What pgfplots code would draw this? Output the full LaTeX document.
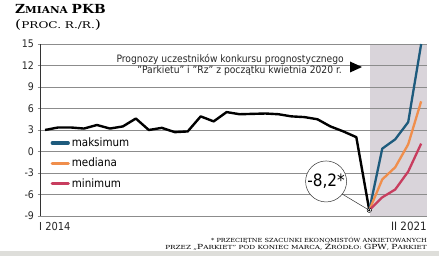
\documentclass[border=0pt]{standalone}
\usepackage{fontspec}
\setmainfont{DejaVu Sans Condensed}
\newfontfamily\ttlfont{DejaVu Serif}
\usepackage{pgfplots}
\pgfplotsset{compat=1.18}
\definecolor{cblue}{HTML}{1E5B7D}
\definecolor{corange}{HTML}{F08E4C}
\definecolor{cred}{HTML}{C83D5F}
\definecolor{cshade}{HTML}{D9D4DA}
\definecolor{cgrid}{HTML}{8C8C8C}
\definecolor{cstrip}{HTML}{DEDEDA}
\begin{document}
\begin{tikzpicture}[x=1pt,y=1pt]
\fill[cstrip] (0,0) rectangle (439,5);
% title
\node[anchor=base west, inner sep=0] at (15,242) {\ttlfont\bfseries\scalebox{1.1}[1]{{\fontsize{12.5}{12}\selectfont Z}{\fontsize{9.6}{10}\selectfont MIANA} {\fontsize{12.5}{12}\selectfont PKB}}};
\node[anchor=base west, inner sep=0] at (15,227.5) {\ttlfont\scalebox{1.3}[1]{{\fontsize{12}{10}\selectfont(}{\fontsize{9.3}{8}\selectfont PROC. R./R.}{\fontsize{12}{10}\selectfont)}}};
\begin{axis}[
  set layers,
  at={(40pt,40pt)}, anchor=south west,
  scale only axis, width=387pt, height=172pt,
  xmin=-0.39, xmax=29.45, ymin=-9, ymax=15,
  axis line style={draw=none},
  xtick=\empty,
  ytick={-9,-6,-3,0,3,6,9,12,15},
  yticklabels={-9,-6,-3,0,3,6,9,12,15},
  ytick pos=left,
  ymajorgrids, grid style={draw=cgrid, line width=0.6pt},
  major tick length=2.5pt, tick align=outside,
  tick style={draw=cgrid, line width=0.6pt},
  yticklabel style={font=\fontsize{10.5}{10}\selectfont, text=black!85},
  legend style={draw=none, fill=none, at={(rel axis cs:0.027,0.467)}, anchor=north west,
    font=\fontsize{11.5}{11.5}\selectfont, row sep=6pt, inner sep=0pt},
  legend cell align=left,
  legend image code/.code={\draw[line width=3.2pt, line cap=round] (0pt,0pt) -- (16pt,0pt);},
]
\begin{pgfonlayer}{axis background}
\fill[cshade] (axis cs:25.05,-9) rectangle (axis cs:29.45,15);
\end{pgfonlayer}
\draw[black!80, line width=0.7pt] (rel axis cs:0,0) -- (rel axis cs:0,1);
\addplot[black, line width=2.4pt, line join=round, forget plot] coordinates {
(0,3.0) (1,3.35) (2,3.35) (3,3.2) (4,3.7) (5,3.2) (6,3.5) (7,4.6) (8,3.0) (9,3.3)
(10,2.7) (11,2.8) (12,4.9) (13,4.2) (14,5.5) (15,5.2) (16,5.25) (17,5.3) (18,5.2) (19,4.9)
(20,4.8) (21,4.5) (22,3.5) (23,2.8) (24,2.0) (25,-8.2)};
\addplot[cblue, line width=2.3pt, line join=round] coordinates {(25,-8.2) (26,0.4) (27,1.7) (28,4.1) (29,15)};
\addlegendentry{maksimum}
\addplot[corange, line width=2.3pt, line join=round] coordinates {(25,-8.2) (26,-3.9) (27,-2.2) (28,1.0) (29,7.0)};
\addlegendentry{mediana}
\addplot[cred, line width=2.3pt, line join=round] coordinates {(25,-8.2) (26,-6.4) (27,-5.3) (28,-2.8) (29,1.1)};
\addlegendentry{minimum}
\node[circle, draw=black!80, line width=0.5pt, fill=white, minimum size=41pt, inner sep=0pt,
  font=\fontsize{17}{17}\selectfont] (call) at (axis cs:21.67,-4.18) {-8,2*};
\draw[black!80, line width=0.5pt] (call.-38) -- (axis cs:25,-8.2);
\addplot[only marks, mark=*, mark size=2.2pt, mark options={fill=white, draw=black, line width=0.5pt}, forget plot] coordinates {(25,-8.2)};
\addplot[only marks, mark=*, mark size=0.8pt, black, forget plot] coordinates {(25,-8.2)};
\end{axis}
% annotation
\node[anchor=base east, inner sep=0, font=\fontsize{10.2}{10}\selectfont, text=black!85] at (344,193) {Prognozy uczestników konkursu prognostycznego};
\node[anchor=base east, inner sep=0, font=\fontsize{10.2}{10}\selectfont, text=black!85] at (342,182) {"Parkietu" i "Rz" z początku kwietnia 2020 r.};
\fill[black] (350,194.5) -- (362,189) -- (350,183.5) -- cycle;
% x labels
\node[anchor=base west, inner sep=0, font=\fontsize{11}{11}\selectfont, text=black!85] at (39,25.3) {I 2014};
\node[anchor=base east, inner sep=0, font=\fontsize{11.5}{11}\selectfont, text=black!85] at (427,25.3) {II 2021};
% footnote
\node[anchor=base east, inner sep=0] at (427,13.3) {\ttlfont\scalebox{1.17}[1]{\fontsize{5.6}{5}\selectfont * PRZECIĘTNE SZACUNKI EKONOMISTÓW ANKIETOWANYCH}};
\node[anchor=base east, inner sep=0] at (427,6.5) {\ttlfont\scalebox{1.3}[1]{\fontsize{5.6}{5}\selectfont PRZEZ „{\fontsize{7}{6}\selectfont P}ARKIET” POD KONIEC MARCA, {\fontsize{7}{6}\selectfont Ź}RÓDŁO: {\fontsize{7}{6}\selectfont GPW}, {\fontsize{7}{6}\selectfont P}ARKIET}};
\path (0,0) rectangle (439,256);
\end{tikzpicture}
\end{document}
